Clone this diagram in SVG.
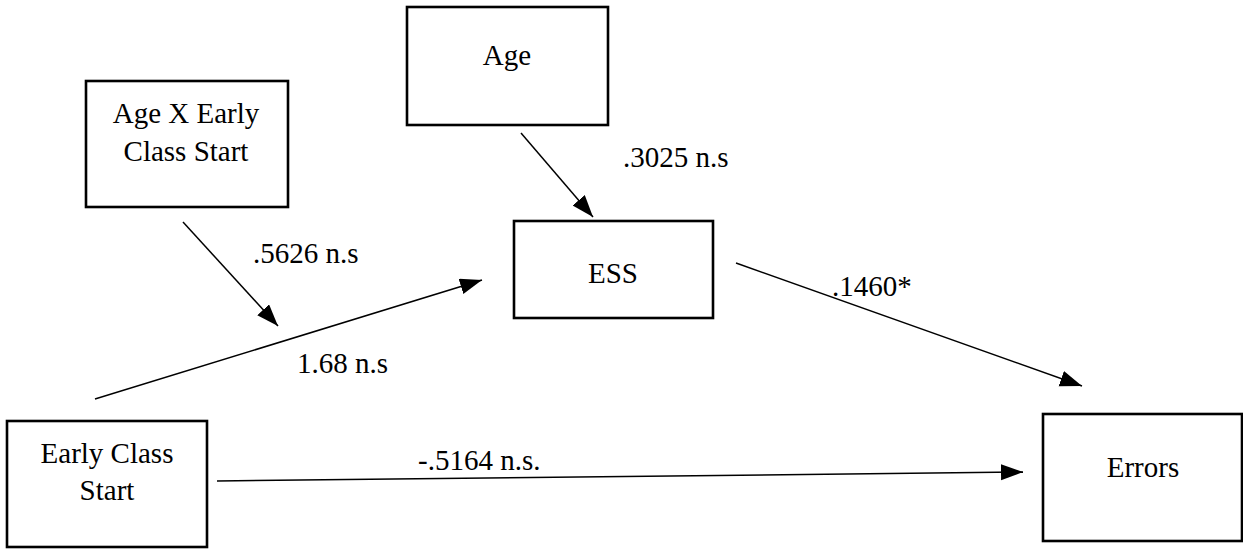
<svg xmlns="http://www.w3.org/2000/svg" width="1243" height="550" viewBox="0 0 1243 550">
<style>
.box{fill:#fff;stroke:#000;stroke-width:2.6}
.e{stroke:#000;stroke-width:1.5;fill:none;marker-end:url(#ah)}
</style>
<defs>
<marker id="ah" markerUnits="userSpaceOnUse" markerWidth="24" markerHeight="18" refX="22" refY="8" orient="auto">
<path d="M0,0 L22,8 L0,16 Z" fill="#000"/>
</marker>
</defs>
<rect width="1243" height="550" fill="#fff"/>
<g font-family="Liberation Serif" font-size="29" fill="#000">
<g id="node-age">
<rect class="box" x="407" y="7" width="201" height="118"/>
<text x="507" y="65" text-anchor="middle">Age</text>
</g>
<g id="node-agex">
<rect class="box" x="86" y="81" width="202" height="126"/>
<text x="186" y="123" text-anchor="middle">Age X Early</text>
<text x="186" y="161" text-anchor="middle">Class Start</text>
</g>
<g id="node-ess">
<rect class="box" x="514" y="221" width="199" height="97"/>
<text x="613" y="283" text-anchor="middle">ESS</text>
</g>
<g id="node-early">
<rect class="box" x="7" y="421" width="200" height="126"/>
<text x="107" y="463" text-anchor="middle">Early Class</text>
<text x="107" y="500" text-anchor="middle">Start</text>
</g>
<g id="node-errors">
<rect class="box" x="1043" y="414" width="199" height="127"/>
<text x="1143" y="477" text-anchor="middle">Errors</text>
</g>
<g id="connectors">
<line class="e" x1="521" y1="133" x2="593" y2="217"/>
<line class="e" x1="183" y1="222" x2="278" y2="326"/>
<line class="e" x1="95" y1="399" x2="482" y2="280"/>
<line class="e" x1="736" y1="263" x2="1082" y2="386"/>
<line class="e" x1="217" y1="481" x2="1023" y2="472"/>
</g>
<g id="labels">
<text x="623" y="167">.3025 n.s</text>
<text x="253" y="263">.5626 n.s</text>
<text x="297" y="373">1.68 n.s</text>
<text x="832" y="296">.1460*</text>
<text x="418" y="470">-.5164 n.s.</text>
</g>
</g>
</svg>
